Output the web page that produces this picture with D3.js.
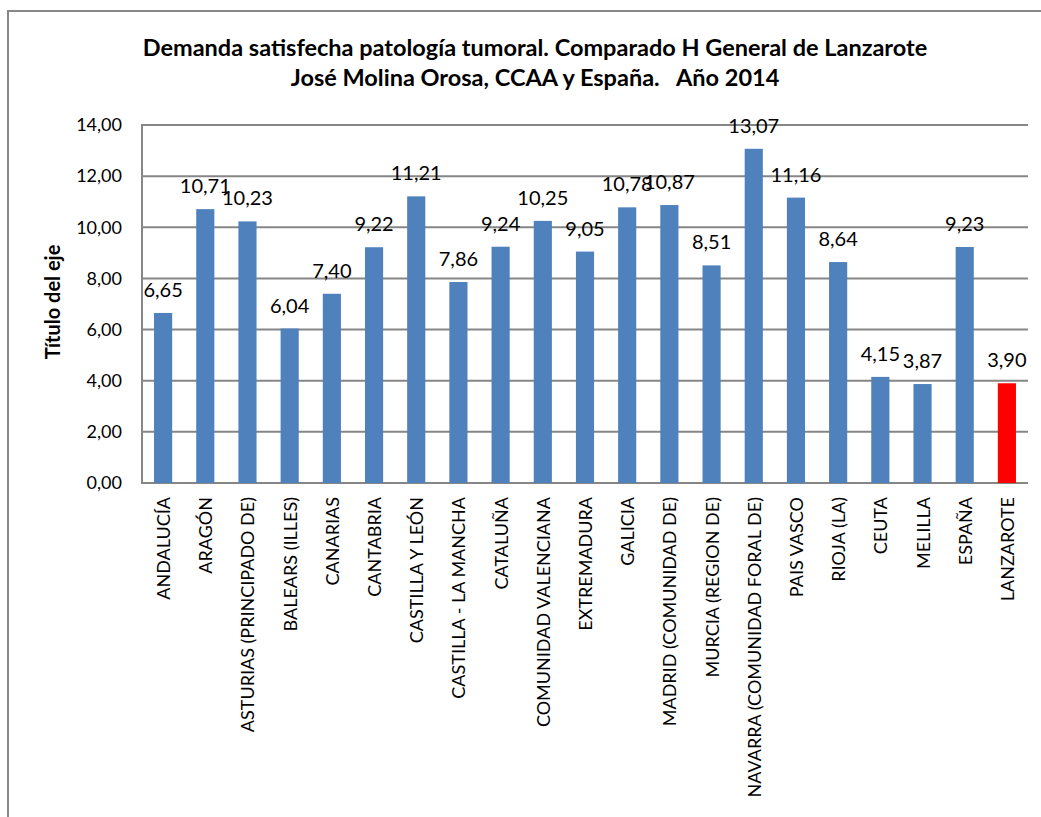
<!DOCTYPE html>
<meta charset="utf-8">
<style>
body { margin: 0; background: #fff; }
svg text { font-family: Lato, "Open Sans", sans-serif; fill: #000; white-space: pre; }
.grid line { stroke: #868686; stroke-width: 2px; }
</style>
<svg width="1041" height="817"></svg>
<script src="https://d3js.org/d3.v7.min.js"></script>
<script>

var categories = ["ANDALUCÍA", "ARAGÓN", "ASTURIAS (PRINCIPADO DE)", "BALEARS (ILLES)", "CANARIAS",
  "CANTABRIA", "CASTILLA Y LEÓN", "CASTILLA - LA MANCHA", "CATALUÑA", "COMUNIDAD VALENCIANA",
  "EXTREMADURA", "GALICIA", "MADRID (COMUNIDAD DE)", "MURCIA (REGION DE)",
  "NAVARRA (COMUNIDAD FORAL DE)", "PAIS VASCO", "RIOJA (LA)", "CEUTA", "MELILLA", "ESPAÑA", "LANZAROTE"];
var values = [6.65, 10.71, 10.23, 6.04, 7.40, 9.22, 11.21, 7.86, 9.24, 10.25,
  9.05, 10.78, 10.87, 8.51, 13.07, 11.16, 8.64, 4.15, 3.87, 9.23, 3.90];
var yTicks = [0, 2, 4, 6, 8, 10, 12, 14];
var titleLines = ["Demanda satisfecha patología tumoral. Comparado H General de Lanzarote",
  "José Molina Orosa, CCAA y España.   Año 2014"];

var svg = d3.select("svg");
var margin = {left: 142, right: 1028, top: 125, bottom: 483};

var fmt = function(v) { return v.toFixed(2).replace(".", ","); };

// outer chart frame
svg.append("path")
    .attr("d", "M8,830 V11 H1050")
    .attr("fill", "none")
    .attr("stroke", "#878787")
    .attr("stroke-width", 2);

var x = d3.scaleBand()
    .domain(categories)
    .range([margin.left, margin.right])
    .paddingInner(0.57)
    .paddingOuter(0.285);

var y = d3.scaleLinear()
    .domain([0, 14])
    .range([margin.bottom, margin.top]);

// gridlines
svg.append("g")
    .attr("class", "grid")
  .selectAll("line")
  .data(yTicks)
  .enter().append("line")
    .attr("x1", margin.left)
    .attr("x2", margin.right)
    .attr("y1", function(d) { return y(d); })
    .attr("y2", function(d) { return y(d); });

svg.append("line")
    .attr("x1", margin.left).attr("x2", margin.left)
    .attr("y1", margin.top - 1).attr("y2", margin.bottom + 1)
    .attr("stroke", "#868686")
    .attr("stroke-width", 2);

// y tick labels
svg.append("g")
  .selectAll("text")
  .data(yTicks)
  .enter().append("text")
    .attr("x", 122)
    .attr("y", function(d) { return y(d); })
    .attr("dy", "0.35em")
    .attr("text-anchor", "end")
    .style("font-size", "18px")
    .text(fmt);

// bars
svg.append("g")
  .selectAll("rect")
  .data(values)
  .enter().append("rect")
    .attr("x", function(d, i) { return x(categories[i]); })
    .attr("width", x.bandwidth())
    .attr("y", function(d) { return y(d); })
    .attr("height", function(d) { return y(0) - y(d); })
    .attr("fill", function(d, i) { return categories[i] === "LANZAROTE" ? "#FF0000" : "#4F81BD"; });

// value labels
svg.append("g")
  .selectAll("text")
  .data(values)
  .enter().append("text")
    .attr("x", function(d, i) { return x(categories[i]) + x.bandwidth() / 2; })
    .attr("y", function(d) { return y(d) - 16; })
    .attr("text-anchor", "middle")
    .style("font-size", "20px")
    .text(fmt);

// x labels
svg.append("g")
  .selectAll("text")
  .data(categories)
  .enter().append("text")
    .attr("transform", function(d) {
      return "translate(" + (x(d) + x.bandwidth() / 2 + 7) + ",497) rotate(-90)";
    })
    .attr("text-anchor", "end")
    .style("font-size", "18px")
    .text(function(d) { return d; });

// axis title
svg.append("text")
    .attr("transform", "translate(60,302) rotate(-90)")
    .attr("text-anchor", "middle")
    .style("font-size", "20px")
    .style("font-weight", "bold")
    .text("Título del eje");

// chart title
svg.append("g")
  .selectAll("text")
  .data(titleLines)
  .enter().append("text")
    .attr("x", 535)
    .attr("y", function(d, i) { return 56 + i * 30; })
    .attr("text-anchor", "middle")
    .style("font-size", "23.5px")
    .style("font-weight", "bold")
    .text(function(d) { return d; });

</script>
